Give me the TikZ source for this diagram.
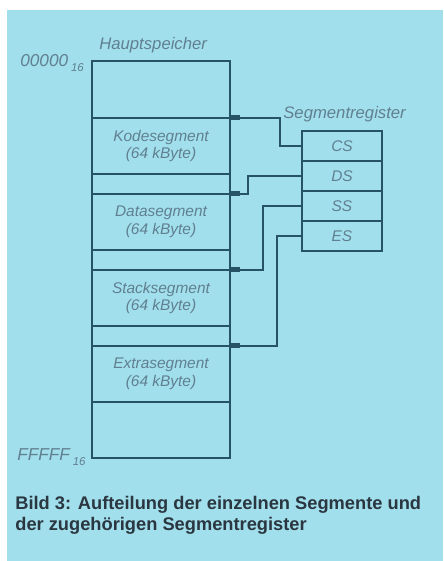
\documentclass[tikz,border=0pt]{standalone}
\usepackage{fontspec}
\setmainfont{Liberation Sans}
\usetikzlibrary{arrows.meta,positioning}
\definecolor{pagebg}{RGB}{162,223,236}
\definecolor{inkline}{RGB}{38,84,102}
\definecolor{inklabel}{RGB}{96,128,144}
\definecolor{inkcaption}{RGB}{42,54,64}
\newcommand{\hexsub}[1]{\raisebox{-0.6ex}{\fontsize{6.5}{7}\selectfont #1}}

\begin{document}
\begin{tikzpicture}[x=0.02cm,y=-0.02cm,node distance=0pt,
    cell/.style={rectangle,draw=inkline,line width=1pt,outer sep=0pt,inner sep=0pt,
      minimum width=2.76cm,align=center,font=\itshape\fontsize{8.8}{10}\selectfont,text=inklabel},
    seg/.style={cell,minimum height=1.12cm},
    gap/.style={cell,minimum height=0.4cm},
    reg/.style={cell,minimum width=1.6cm,minimum height=0.6cm},
    lbl/.style={font=\itshape\fontsize{9.5}{10}\selectfont,text=inklabel,inner sep=0pt},
    link/.style={draw=inkline,line width=0.8pt,-{Rectangle[length=2mm,width=1mm]}}]
  \path[use as bounding box,fill=white] (0,0) rectangle (443,561);
  \fill[pagebg] (7,10) rectangle (443,561);
  % main memory
  \node[cell,minimum height=1.14cm,anchor=north west] (top) at (92,61) {};
  \node[seg,below=of top] (kode) {Kodesegment\\(64 kByte)};
  \node[gap,below=of kode] (gapA) {};
  \node[seg,below=of gapA] (data) {Datasegment\\(64 kByte)};
  \node[gap,below=of data] (gapB) {};
  \node[seg,below=of gapB] (stack) {Stacksegment\\(64 kByte)};
  \node[gap,below=of stack] (gapC) {};
  \node[seg,below=of gapC] (extra) {Extrasegment\\(64 kByte)};
  \node[seg,below=of extra] (bottom) {};
  \node[lbl,anchor=west] (hs) at (99,45) {Hauptspeicher};
  \node[lbl,anchor=west,font=\itshape\fontsize{9.8}{10}\selectfont] (lo) at (20,63) {00000\,\hexsub{16}};
  \node[lbl,anchor=west,font=\itshape\fontsize{9.8}{10}\selectfont] (hi) at (17,457) {FFFFF\,\hexsub{16}};
  % segment registers
  \node[reg,anchor=north west] (cs) at (302,131) {CS};
  \node[reg,below=of cs] (ds) {DS};
  \node[reg,below=of ds] (ss) {SS};
  \node[reg,below=of ss] (es) {ES};
  \node[lbl,anchor=west] (sr) at (283,114) {Segmentregister};
  \draw[link] (cs.west) -- ++(-22,0) |- (kode.north east);
  \draw[link] (ds.west) -- ++(-54,0) |- (data.north east);
  \draw[link] (ss.west) -- ++(-39,0) |- (stack.north east);
  \draw[link] (es.west) -- ++(-25,0) |- (extra.north east);
  % caption
  \node[anchor=north west,inner sep=0pt,align=left,text=inkcaption,
    font=\bfseries\fontsize{10.4}{12}\selectfont] (cap) at (15,496)
    {Bild 3: Aufteilung der einzelnen Segmente und\\der zugehörigen Segmentregister};
\end{tikzpicture}
\end{document}
